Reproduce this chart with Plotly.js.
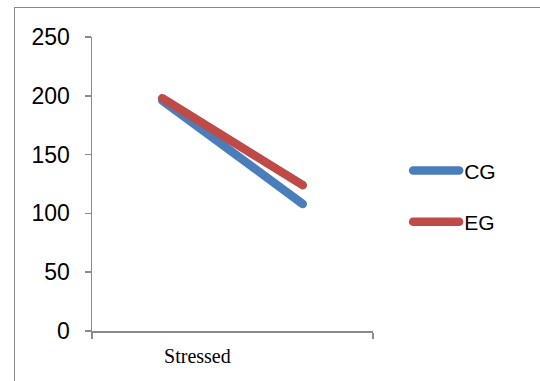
<!DOCTYPE html>
<html>
<head>
<meta charset="utf-8">
<script src="https://cdn.plot.ly/plotly-3.0.1.min.js"></script>
<style>
  html, body { margin: 0; padding: 0; background: #fff; }
  #wrap { position: relative; width: 540px; height: 381px; overflow: hidden; }
  #frame { position: absolute; left: 14px; top: 7px; width: 600px; height: 400px;
           border-left: 1.5px solid #8a8a8a; border-top: 1.5px solid #8a8a8a; box-sizing: border-box; }
  #chart { position: absolute; left: 0; top: 0; width: 540px; height: 381px; }
</style>
</head>
<body>
<div id="wrap">
  <div id="frame"></div>
  <div id="chart"></div>
</div>
<script>
const categories = ["Stressed", ""];
const seriesNames = ["CG", "EG"];
const cgValues = [196, 108];
const egValues = [198, 124];
const yTickValues = [0, 50, 100, 150, 200, 250];
const colors = ["#4a7ebb", "#be4b48"];

const xIdx = categories.map((c, i) => i);

const traces = [
  { x: xIdx, y: cgValues, name: seriesNames[0], mode: "lines", legendgroup: "a",
    line: { color: colors[0], width: 8.5 } },
  { x: xIdx, y: egValues, name: seriesNames[1], mode: "lines", legendgroup: "b",
    line: { color: colors[1], width: 8.5 } }
];

const layout = {
  width: 540, height: 381,
  paper_bgcolor: "rgba(0,0,0,0)", plot_bgcolor: "rgba(0,0,0,0)",
  margin: { l: 92, r: 167, t: 37, b: 50 },
  font: { family: "Liberation Sans, Arial, sans-serif", color: "#000" },
  showlegend: true,
  legend: { x: 1.125, y: 0.458, xanchor: "left", yanchor: "middle",
            font: { size: 21, family: "Liberation Sans, Arial, sans-serif" },
            itemwidth: 46, tracegroupgap: 21, bgcolor: "rgba(0,0,0,0)" },
  xaxis: {
    type: "linear", range: [-0.5, 1.5], fixedrange: true,
    showgrid: false, zeroline: false, showline: true, linecolor: "#8a8a8a", linewidth: 1.5,
    tickvals: [0.25], ticktext: [categories[0]], ticks: "",
    ticklabelstandoff: 6,
    tickfont: { family: "Liberation Serif, Times New Roman, serif", size: 20 },
    minor: { tickvals: [-0.5, 1.5], ticks: "outside", ticklen: 6, tickcolor: "#8a8a8a", tickwidth: 1.5 }
  },
  yaxis: {
    range: [0, 250], tickvals: yTickValues, fixedrange: true,
    showgrid: false, zeroline: false, showline: true, linecolor: "#8a8a8a", linewidth: 1.5,
    ticks: "outside", ticklen: 6, tickcolor: "#8a8a8a", tickwidth: 1.5,
    ticklabelstandoff: 10,
    tickfont: { size: 23, family: "Liberation Sans, Arial, sans-serif" }
  }
};

Plotly.newPlot("chart", traces, layout, { displayModeBar: false, staticPlot: true }).then(gd => {
  gd.querySelectorAll("path.js-line").forEach(p => p.style.strokeLinecap = "round");
  gd.querySelectorAll(".legend path").forEach(p => p.style.strokeLinecap = "round");
});
</script>
</body>
</html>
